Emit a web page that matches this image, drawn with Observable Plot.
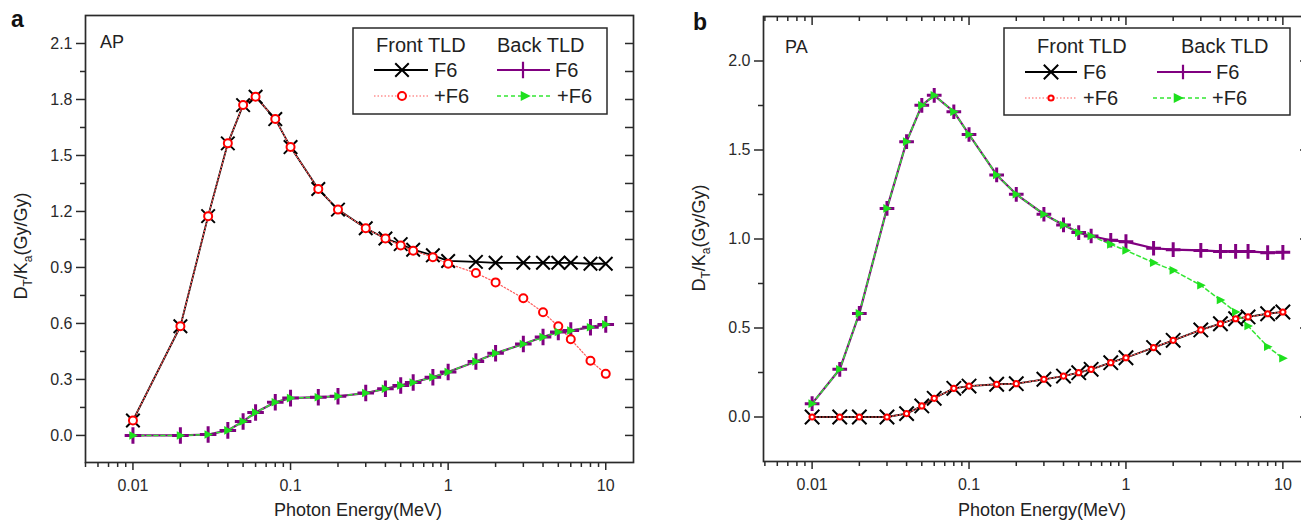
<!DOCTYPE html>
<html>
<head>
<meta charset="utf-8">
<script src="https://cdn.jsdelivr.net/npm/d3@7"></script>
<script src="https://cdn.jsdelivr.net/npm/@observablehq/plot@0.6"></script>
<style>
html, body { margin: 0; padding: 0; background: #fff; overflow: hidden; }
#wrap { position: relative; width: 1301px; height: 521px; overflow: hidden; }
#pa { position: absolute; left: 0; top: 0; width: 650px; height: 521px; }
#pb { position: absolute; left: 650px; top: 0; width: 680px; height: 521px; }
</style>
</head>
<body>
<div id="wrap"><div id="pa"></div><div id="pb"></div></div>
<script>
// ---------- data ----------
const energyA = [0.01,0.02,0.03,0.04,0.05,0.06,0.08,0.1,0.15,0.2,0.3,0.4,0.5,0.6,0.8,1,1.5,2,3,4,5,6,8,10];
const apFrontF6  = [0.08,0.585,1.175,1.565,1.77,1.815,1.695,1.545,1.32,1.21,1.11,1.055,1.025,0.995,0.965,0.935,0.93,0.925,0.925,0.925,0.925,0.925,0.92,0.92];
const apFrontPF6 = [0.08,0.585,1.175,1.565,1.77,1.815,1.695,1.545,1.32,1.21,1.11,1.055,1.018,0.99,0.955,0.92,0.87,0.82,0.735,0.66,0.585,0.515,0.40,0.33];
const apBackF6   = [0,0,0.005,0.027,0.075,0.123,0.178,0.2,0.205,0.21,0.227,0.25,0.268,0.284,0.312,0.34,0.396,0.44,0.49,0.527,0.554,0.562,0.58,0.595];
const apBackPF6  = [0,0,0.005,0.027,0.075,0.123,0.178,0.2,0.205,0.21,0.227,0.25,0.268,0.284,0.312,0.34,0.396,0.44,0.49,0.527,0.554,0.562,0.58,0.595];

const energyB = [0.01,0.015,0.02,0.03,0.04,0.05,0.06,0.08,0.1,0.15,0.2,0.3,0.4,0.5,0.6,0.8,1,1.5,2,3,4,5,6,8,10];
const paFrontF6  = [0,0,0,0,0.019,0.062,0.105,0.161,0.174,0.184,0.187,0.212,0.23,0.249,0.268,0.305,0.333,0.39,0.431,0.489,0.524,0.552,0.562,0.58,0.59];
const paFrontPF6 = [0,0,0,0,0.019,0.062,0.105,0.161,0.174,0.184,0.187,0.212,0.23,0.249,0.268,0.305,0.333,0.39,0.431,0.489,0.524,0.552,0.562,0.58,0.59];
const paBackF6   = [0.075,0.268,0.582,1.172,1.547,1.751,1.807,1.715,1.587,1.36,1.251,1.139,1.079,1.036,1.017,0.993,0.985,0.948,0.94,0.936,0.93,0.93,0.93,0.923,0.925];
const paBackPF6  = [0.075,0.268,0.582,1.172,1.547,1.751,1.807,1.715,1.587,1.36,1.251,1.139,1.079,1.036,1.017,0.97,0.936,0.867,0.824,0.74,0.657,0.59,0.511,0.395,0.33];

// ---------- ticks & labels ----------
const xMajorTicks = [0.01, 0.1, 1, 10];
const xMajorLabels = ["0.01", "0.1", "1", "10"];
const xMinorTicks = [0.005,0.006,0.007,0.008,0.009,0.02,0.03,0.04,0.05,0.06,0.07,0.08,0.09,0.2,0.3,0.4,0.5,0.6,0.7,0.8,0.9,2,3,4,5,6,7,8,9];
const yMajorA = [0,0.3,0.6,0.9,1.2,1.5,1.8,2.1];
const yMinorA = [0.15,0.45,0.75,1.05,1.35,1.65,1.95];
const yMajorB = [0,0.5,1,1.5,2];
const yMinorB = [0.25,0.75,1.25,1.75];
const panelLetters = ["a", "b"];
const panelTitles = ["AP", "PA"];
const groupHeaders = ["Front TLD", "Back TLD"];
const seriesNames = ["F6", "+F6"];
const xTitle = "Photon Energy(MeV)";

// ---------- styling ----------
const FONT = '"Liberation Sans", Arial, Helvetica, sans-serif';
const AX = "#2a2a2a";
const PURPLE = "#800080";
const RED = "#ff0000";
const REDLINE = "#ff5a5a";
const GREEN = "#1ee01e";
const GREENLINE = "#33e633";

const triRight = {
  draw(ctx, size) {
    const r = Math.sqrt(size / Math.PI);
    ctx.moveTo(-r * 0.85, -r);
    ctx.lineTo(r * 1.15, 0);
    ctx.lineTo(-r * 0.85, r);
    ctx.closePath();
  }
};

function buildPanel(o) {
  const pw = o.width - o.ml - o.mr, ph = o.height - o.mt - o.mb;
  const rows = ys => o.energy.map((x, i) => ({x, y: ys[i]}));
  const fF6 = rows(o.frontF6), fP = rows(o.frontPF6), bF6 = rows(o.backF6), bP = rows(o.backPF6);
  const marks = [
    Plot.axisY(o.yMajor, {anchor: "left", tickSize: 9, tickPadding: 4, tickFormat: d => d.toFixed(1), label: null, fontSize: 16, strokeWidth: 1.5}),
    Plot.axisY(o.yMinor, {anchor: "left", tickSize: 5, tickPadding: 0, tickFormat: () => "", label: null, strokeWidth: 1.5}),
    Plot.axisX(xMajorTicks, {anchor: "bottom", tickSize: 8, tickPadding: 9, tickFormat: d => xMajorLabels[xMajorTicks.indexOf(d)], label: null, fontSize: 16, strokeWidth: 1.5}),
    Plot.axisX(xMinorTicks, {anchor: "bottom", tickSize: 5, tickPadding: 0, tickFormat: () => "", label: null, strokeWidth: 1.5}),
    Plot.tickY(o.yRight, {y: d => d, insetLeft: pw - o.rightTick, stroke: AX, strokeWidth: 1.5}),
  ];
  if (o.topTicks) {
    marks.push(
      Plot.tickX(xMajorTicks, {x: d => d, insetBottom: ph - 9, stroke: AX, strokeWidth: 1.5}),
      Plot.tickX(xMinorTicks, {x: d => d, insetBottom: ph - 5, stroke: AX, strokeWidth: 1.5})
    );
  }
  marks.push(
    Plot.frame({stroke: AX, strokeWidth: 1.7}),
    Plot.line(fF6, {x: "x", y: "y", stroke: "#000", strokeWidth: 1.8}),
    Plot.line(bF6, {x: "x", y: "y", stroke: PURPLE, strokeWidth: 2.2}),
    Plot.line(fP, {x: "x", y: "y", stroke: REDLINE, strokeWidth: 1.2, strokeDasharray: "1.5,2"}),
    Plot.line(bP, {x: "x", y: "y", stroke: GREENLINE, strokeWidth: 1.5, strokeDasharray: "4,3"}),
    Plot.dot(fF6, {x: "x", y: "y", symbol: "times", r: o.rX, stroke: "#000", strokeWidth: 2, fill: "none"}),
    Plot.dot(bF6, {x: "x", y: "y", symbol: "plus", r: o.rPlus, stroke: PURPLE, strokeWidth: 3, fill: "none"}),
    Plot.dot(fP, {x: "x", y: "y", symbol: "circle", r: o.rCircle, stroke: RED, strokeWidth: 2, fill: "white"}),
    Plot.dot(bP, {x: "x", y: "y", symbol: triRight, r: o.rTri, fill: GREEN, stroke: "none"})
  );
  const chart = Plot.plot({
    width: o.width, height: o.height,
    marginLeft: o.ml, marginRight: o.mr, marginTop: o.mt, marginBottom: o.mb,
    x: {type: "log", domain: o.xDomain},
    y: {domain: o.yDomain},
    style: {fontFamily: FONT, fontSize: "16px", color: AX, background: "transparent", overflow: "visible", maxWidth: "none"},
    marks
  });
  const svg = d3.select(chart);

  // panel letter and title
  svg.append("text").attr("x", o.letter[0]).attr("y", o.letter[1]).attr("text-anchor", "start")
    .style("font-family", FONT).style("font-size", "23px").style("font-weight", "bold").attr("fill", "#111").text(o.letterText);
  svg.append("text").attr("x", o.title[0]).attr("y", o.title[1]).attr("text-anchor", "start")
    .style("font-family", FONT).style("font-size", "18px").attr("fill", "#222").text(o.titleText);

  // x title
  svg.append("text").attr("x", o.xt[0]).attr("y", o.xt[1]).attr("text-anchor", "middle")
    .style("font-family", FONT).style("font-size", "18px").attr("fill", "#222").text(xTitle);

  // y title with subscripts
  const yl = svg.append("text").attr("transform", `translate(${o.yt[0]},${o.yt[1]}) rotate(-90)`)
    .attr("text-anchor", "middle").style("font-family", FONT).style("font-size", "18px").attr("fill", "#222");
  yl.append("tspan").text("D");
  yl.append("tspan").attr("dy", 5).style("font-size", "12px").text("T");
  yl.append("tspan").attr("dy", -5).text("/K");
  yl.append("tspan").attr("dy", 5).style("font-size", "12px").text("a");
  yl.append("tspan").attr("dy", -5).text("(Gy/Gy)");

  // legend
  const L = o.legend;
  const g = svg.append("g").attr("text-anchor", "start").style("font-family", FONT).style("font-size", "20px").attr("fill", "#222");
  g.append("rect").attr("x", L.box[0]).attr("y", L.box[1]).attr("width", L.box[2]).attr("height", L.box[3])
    .attr("fill", "white").attr("stroke", AX).attr("stroke-width", 1.5);
  g.append("text").attr("x", L.h1).attr("y", L.hy).text(groupHeaders[0]);
  g.append("text").attr("x", L.h2).attr("y", L.hy).text(groupHeaders[1]);
  const items = [
    {c: L.c1, y: L.r1, stroke: "#000", sw: 2, dash: null, sym: d3.symbolTimes, size: Math.PI * o.rX * o.rX, mstroke: "#000", mfill: "none", msw: 2, name: seriesNames[0]},
    {c: L.c2, y: L.r1, stroke: PURPLE, sw: 2, dash: null, sym: d3.symbolPlus, size: Math.PI * o.rPlus * o.rPlus, mstroke: PURPLE, mfill: "none", msw: 2.2, name: seriesNames[0]},
    {c: L.c1, y: L.r2, stroke: REDLINE, sw: 1.2, dash: "1.5,2", sym: d3.symbolCircle, size: Math.PI * o.rCircle * o.rCircle, mstroke: RED, mfill: "white", msw: 2, name: seriesNames[1]},
    {c: L.c2b, y: L.r2, stroke: GREENLINE, sw: 1.5, dash: "4,3", sym: triRight, size: Math.PI * 5 * 5, mstroke: "none", mfill: GREEN, msw: 0, name: seriesNames[1]},
  ];
  for (const it of items) {
    const ln = g.append("line").attr("x1", it.c[0]).attr("x2", it.c[1]).attr("y1", it.y).attr("y2", it.y)
      .attr("stroke", it.stroke).attr("stroke-width", it.sw);
    if (it.dash) ln.attr("stroke-dasharray", it.dash);
    g.append("path").attr("d", d3.symbol(it.sym, it.size)()).attr("transform", `translate(${it.c[2]},${it.y})`)
      .attr("stroke", it.mstroke).attr("fill", it.mfill).attr("stroke-width", it.msw);
    g.append("text").attr("x", it.c[3]).attr("y", it.y + 7).text(it.name);
  }
  return chart;
}

const chartA = buildPanel({
  width: 650, height: 521, ml: 85, mr: 17, mt: 15, mb: 59,
  xDomain: [0.005, 15], yDomain: [-0.145, 2.25],
  energy: energyA, frontF6: apFrontF6, frontPF6: apFrontPF6, backF6: apBackF6, backPF6: apBackPF6,
  yMajor: yMajorA, yMinor: yMinorA, yRight: [...yMajorA, ...yMinorA], rightTick: 8, topTicks: false,
  rX: 6.2, rPlus: 5.4, rCircle: 4, rTri: 4.3,
  letterText: panelLetters[0], letter: [11, 27], titleText: panelTitles[0], title: [100, 48],
  xt: [358, 516], yt: [27, 246],
  legend: {box: [353, 28, 254, 86], h1: 376, h2: 497, hy: 52, r1: 70, r2: 96,
    c1: [374, 428, 402, 434], c2: [497, 550, 523, 555], c2b: [497, 550, 525, 557]}
});
document.getElementById("pa").appendChild(chartA);

const chartB = buildPanel({
  width: 680, height: 521, ml: 113, mr: 20, mt: 16, mb: 60,
  xDomain: [0.0049, 15], yDomain: [-0.25, 2.25],
  energy: energyB, frontF6: paFrontF6, frontPF6: paFrontPF6, backF6: paBackF6, backPF6: paBackPF6,
  yMajor: yMajorB, yMinor: yMinorB, yRight: yMajorB, rightTick: 10, topTicks: true,
  rX: 6.6, rPlus: 4.8, rCircle: 2.6, rTri: 4.3,
  letterText: panelLetters[1], letter: [43, 30], titleText: panelTitles[1], title: [135, 53],
  xt: [392, 516], yt: [55, 238],
  legend: {box: [354, 28, 286, 87], h1: 387, h2: 531, hy: 53, r1: 72, r2: 98,
    c1: [375, 427, 401, 433], c2: [507, 561, 533, 566], c2b: [503, 557, 528, 562]}
});
document.getElementById("pb").appendChild(chartB);
</script>
</body>
</html>
